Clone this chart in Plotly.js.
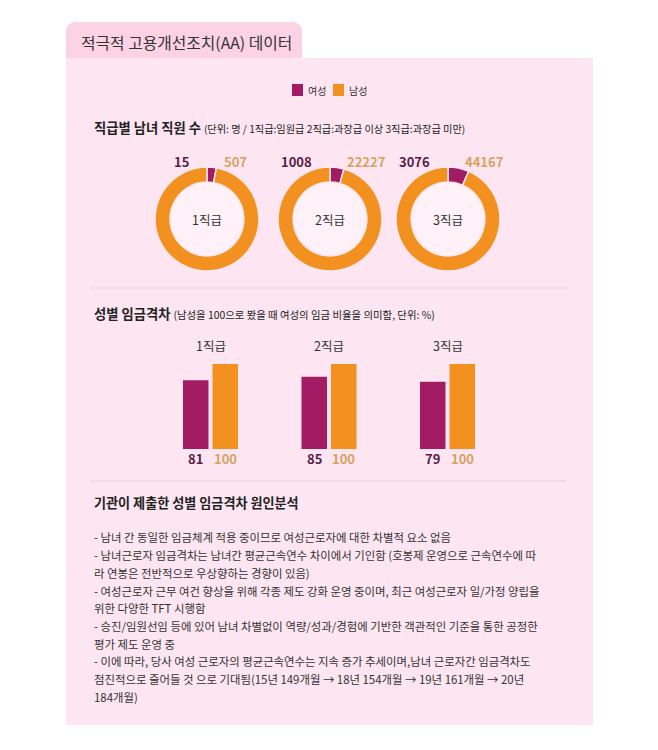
<!DOCTYPE html>
<html>
<head>
<meta charset="utf-8">
<script src="https://cdn.plot.ly/plotly-3.0.1.min.js"></script>
<style>html,body{margin:0;padding:0;background:#fff;}#chart{width:658px;height:750px;}</style>
</head>
<body>
<div id="chart"></div>
<script>
// ---- data ----
const pageTitle = '적극적 고용개선조치(AA) 데이터';
const seriesNames = ['여성', '남성'];
const grades = ['1직급', '2직급', '3직급'];
const femaleCount = [15, 1008, 3076];
const maleCount = [507, 22227, 44167];
const femaleWage = [81, 85, 79];
const maleWage = [100, 100, 100];
const section1Title = '직급별 남녀 직원 수';
const section1Note = '(단위: 명 / 1직급:임원급 2직급:과장급 이상 3직급:과장급 미만)';
const section2Title = '성별 임금격차';
const section2Note = '(남성을 100으로 봤을 때 여성의 임금 비율을 의미함, 단위: %)';
const section3Title = '기관이 제출한 성별 임금격차 원인분석';
const textLines = [
  '- 남녀 간 동일한 임금체계 적용 중이므로 여성근로자에 대한 차별적 요소 없음',
  '- 남녀근로자 임금격차는 남녀간 평균근속연수 차이에서 기인함 (호봉제 운영으로 근속연수에 따',
  '라 연봉은 전반적으로 우상향하는 경향이 있음)',
  '- 여성근로자 근무 여건 향상을 위해 각종 제도 강화 운영 중이며, 최근 여성근로자 일/가정 양립을',
  '위한 다양한 TFT 시행함',
  '- 승진/임원선임 등에 있어 남녀 차별없이 역량/성과/경험에 기반한 객관적인 기준을 통한 공정한',
  '평가 제도 운영 중',
  '- 이에 따라, 당사 여성 근로자의 평균근속연수는 지속 증가 추세이며,남녀 근로자간 임금격차도',
  '점진적으로 줄어들 것 으로 기대됨(15년 149개월 → 18년 154개월 → 19년 161개월 → 20년',
  '184개월)'
];

// ---- style ----
const W = 658, H = 750;
const px = x => x / W;
const py = y => 1 - y / H;
const FONT = '"Noto Sans CJK KR", "Noto Sans", sans-serif';
const C_F = '#a11c62', C_M = '#f2911f';
const C_F_TXT = '#5a1c48', C_M_TXT = '#d6a262';
const TXT = '#333333';
const PANEL = '#fde6f1', TAB = '#fcd2e5';

const donutCx = [207, 330, 448], donutCy = 219, donutR = 52, HOLE = 0.71;

const data = [];
const annotations = [];
const shapes = [];
const ann = o => annotations.push(Object.assign({xref:'paper', yref:'paper', xanchor:'center', yanchor:'middle', showarrow:false}, o));

// background panel + tab
shapes.push({type:'rect', xref:'paper', yref:'paper', x0:px(66), x1:px(593), y0:py(725), y1:py(58), fillcolor:PANEL, line:{width:0}, layer:'below'});
const tx0 = px(66), tx1 = px(302), ty0 = py(58), ty1 = py(22), rx = px(76)-px(66), ry = py(22)-py(32);
shapes.push({type:'path', xref:'paper', yref:'paper', layer:'below', fillcolor:TAB, line:{width:0},
  path:`M${tx0},${ty0} L${tx0},${ty1-ry} Q${tx0},${ty1} ${tx0+rx},${ty1} L${tx1-rx},${ty1} Q${tx1},${ty1} ${tx1},${ty1-ry} L${tx1},${ty0} Z`});
// dividers
[288, 481].forEach(y => shapes.push({type:'line', xref:'paper', yref:'paper', x0:px(90), x1:px(567), y0:py(y), y1:py(y), line:{color:'#e6d3dd', width:1}, layer:'below'}));

ann({x:px(79), y:py(42), xanchor:'left', text:pageTitle, font:{family:FONT, size:15.8, color:TXT}});

// legend
[[C_F, 292], [C_M, 333]].forEach(([c, x], i) => {
  shapes.push({type:'rect', xref:'paper', yref:'paper', x0:px(x), x1:px(x+11), y0:py(96), y1:py(84), fillcolor:c, line:{width:0}});
  ann({x:px(x+14), y:py(90), xanchor:'left', text:seriesNames[i], font:{family:FONT, size:10, color:TXT}});
});

// section headers
ann({x:px(92), y:py(128), xanchor:'left',
  text:`<b>${section1Title}</b> <span style="font-size:10.2px">${section1Note}</span>`, font:{family:FONT, size:13.3, color:'#222'}});
ann({x:px(92), y:py(313), xanchor:'left',
  text:`<b>${section2Title}</b> <span style="font-size:10.4px">${section2Note}</span>`, font:{family:FONT, size:13.3, color:'#222'}});

// donuts
grades.forEach((g, i) => {
  const cx = donutCx[i];
  data.push({type:'pie', values:[femaleCount[i], maleCount[i]], labels:seriesNames, sort:false,
    direction:'counterclockwise', rotation:0, hole:HOLE, textinfo:'none', showlegend:false,
    marker:{colors:[C_F, C_M], line:{color:PANEL, width:1.5}},
    domain:{x:[px(cx-donutR), px(cx+donutR)], y:[py(donutCy+donutR), py(donutCy-donutR)]}});
  const ir = donutR*HOLE;
  shapes.push({type:'circle', xref:'paper', yref:'paper', x0:px(cx-ir), x1:px(cx+ir), y0:py(donutCy+ir), y1:py(donutCy-ir), fillcolor:'#fef2f8', line:{width:0}, layer:'below'});
  ann({x:px(cx), y:py(donutCy), text:g, font:{family:FONT, size:12.5, color:TXT}});
  ann({x:px(cx-16), y:py(161), xanchor:'right', text:String(femaleCount[i]), font:{family:FONT, size:13, color:C_F_TXT, weight:600}});
  ann({x:px(cx+15), y:py(161), xanchor:'left', text:String(maleCount[i]), font:{family:FONT, size:13, color:C_M_TXT, weight:600}});
});

// wage bars
data.push({type:'bar', x:grades, y:femaleWage, name:seriesNames[0], marker:{color:C_F}, showlegend:false, hoverinfo:'x+y+name'});
data.push({type:'bar', x:grades, y:maleWage, name:seriesNames[1], marker:{color:C_M}, showlegend:false, hoverinfo:'x+y+name'});
grades.forEach((g, i) => {
  ann({xref:'x', x:g, y:py(345), text:g, font:{family:FONT, size:12.5, color:TXT}});
  ann({xref:'x', x:g, xshift:-14.75, y:py(458), text:String(femaleWage[i]), font:{family:FONT, size:13, color:C_F_TXT, weight:600}});
  ann({xref:'x', x:g, xshift:14.75, y:py(458), text:String(maleWage[i]), font:{family:FONT, size:13, color:C_M_TXT, weight:600}});
});

// text block
ann({x:px(92), y:py(502), xanchor:'left', text:`<b>${section3Title}</b>`, font:{family:FONT, size:13.1, color:'#222'}});
const lineY = [537, 555, 573, 591, 608, 626, 644, 661, 679, 697];
textLines.forEach((t, i) => {
  ann({x:px(92), y:py(lineY[i]), xanchor:'left', text:t, font:{family:FONT, size:11.4, color:TXT}});
});

const layout = {
  width:W, height:H, margin:{l:0, r:0, t:0, b:0}, paper_bgcolor:'#ffffff', plot_bgcolor:'rgba(0,0,0,0)',
  showlegend:false, barmode:'group', bargap:0.502, bargroupgap:0.136,
  xaxis:{type:'category', domain:[px(151.25), px(506.75)], range:[-0.5, 2.5], visible:false, fixedrange:true},
  yaxis:{range:[0, 100], domain:[py(449), py(364)], visible:false, fixedrange:true},
  shapes, annotations, font:{family:FONT}
};
Plotly.newPlot('chart', data, layout, {displayModeBar:false, staticPlot:true});
</script>
</body>
</html>
